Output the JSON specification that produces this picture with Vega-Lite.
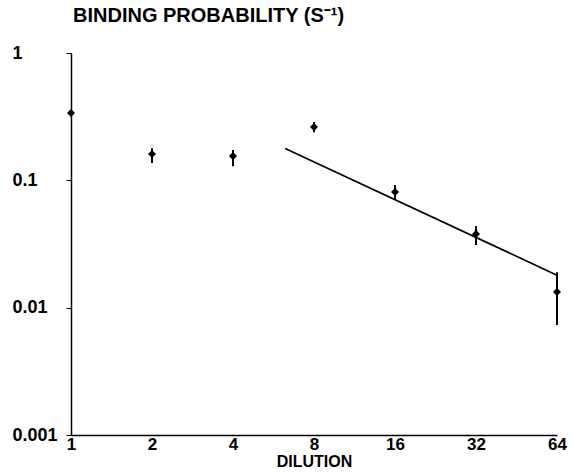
{
  "$schema": "https://vega.github.io/schema/vega-lite/v6.json",
  "width": 486,
  "height": 382,
  "autosize": "none",
  "padding": {"left": 71, "top": 53, "right": 15, "bottom": 39},
  "background": "white",
  "config": {
    "view": {"stroke": null},
    "font": "Liberation Sans",
    "axis": {"grid": false, "domainColor": "black", "tickColor": "black", "labelColor": "black", "titleColor": "black", "labelFont": "Liberation Sans", "titleFont": "Liberation Sans", "labelFontWeight": "bold", "titleFontWeight": "bold"}
  },
  "title": {
    "text": "BINDING PROBABILITY (S⁻¹)",
    "anchor": "start",
    "frame": "group",
    "font": "Liberation Sans",
    "fontSize": 20,
    "fontWeight": "bold",
    "color": "black",
    "offset": 18,
    "dx": 2
  },
  "datasets": {
    "points": [
      {"dilution": 1, "p": 0.338, "lo": 0.338, "hi": 0.338},
      {"dilution": 2, "p": 0.161, "lo": 0.137, "hi": 0.179},
      {"dilution": 4, "p": 0.155, "lo": 0.129, "hi": 0.173},
      {"dilution": 8, "p": 0.262, "lo": 0.239, "hi": 0.287},
      {"dilution": 16, "p": 0.0809, "lo": 0.0713, "hi": 0.0918},
      {"dilution": 32, "p": 0.0379, "lo": 0.031, "hi": 0.0437},
      {"dilution": 64, "p": 0.0133, "lo": 0.0073, "hi": 0.019}
    ],
    "fit": [
      {"dilution": 6.25, "p": 0.178},
      {"dilution": 64, "p": 0.018}
    ]
  },
  "layer": [
    {
      "data": {"name": "points"},
      "mark": {"type": "rule", "color": "black", "strokeWidth": 2},
      "encoding": {
        "x": {"field": "dilution", "type": "quantitative"},
        "y": {"field": "lo", "type": "quantitative"},
        "y2": {"field": "hi"}
      }
    },
    {
      "data": {"name": "fit"},
      "mark": {"type": "line", "color": "black", "strokeWidth": 1.6},
      "encoding": {
        "x": {"field": "dilution", "type": "quantitative"},
        "y": {"field": "p", "type": "quantitative"}
      }
    },
    {
      "data": {"name": "points"},
      "mark": {"type": "point", "shape": "diamond", "filled": true, "color": "black", "opacity": 1, "size": 65},
      "encoding": {
        "x": {
          "field": "dilution", "type": "quantitative",
          "scale": {"type": "log", "base": 2, "domain": [1, 64], "nice": false},
          "axis": {"values": [1, 2, 4, 8, 16, 32, 64], "format": "d", "tickSize": 0, "labelPadding": 1, "labelFontSize": 17, "labelBaseline": "top", "domainWidth": 1.5, "title": "DILUTION", "titleFontSize": 16, "titlePadding": 1, "labelFlush": false, "labelOverlap": false}
        },
        "y": {
          "field": "p", "type": "quantitative",
          "scale": {"type": "log", "domain": [0.001, 1], "nice": false},
          "axis": {"values": [1, 0.1, 0.01, 0.001], "labelExpr": "datum.value >= 1 ? '1' : datum.value >= 0.1 ? '0.1' : datum.value >= 0.01 ? '0.01' : '0.001'", "tickSize": 5, "labelPadding": 54, "labelAlign": "left", "labelBaseline": "middle", "labelFontSize": 18, "domainWidth": 1.5, "title": null, "labelFlush": false, "labelOverlap": false}
        }
      }
    }
  ]
}
